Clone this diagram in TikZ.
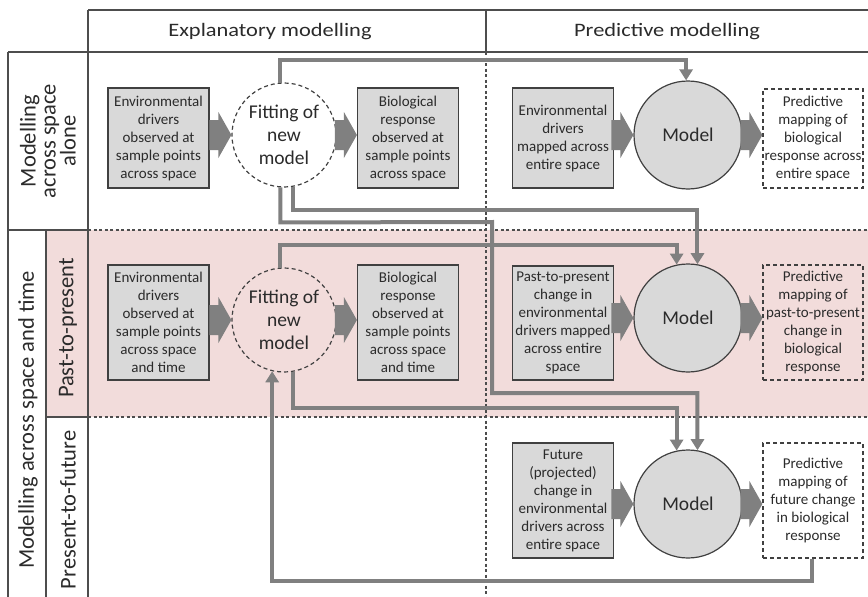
\documentclass[tikz,border=0pt]{standalone}
\usepackage{fontspec}
\setmainfont{Carlito}
\usetikzlibrary{arrows.meta}
\definecolor{gridc}{HTML}{4D4D4D}
\definecolor{boxc}{HTML}{404040}
\definecolor{boxfill}{HTML}{D9D9D9}
\definecolor{connc}{HTML}{808080}
\definecolor{pinkc}{HTML}{F2DCDB}
\definecolor{txt}{HTML}{2B2B2B}
\newcommand\bxfont{\fontsize{15}{18}\selectfont}
\newcommand\crfont{\fontsize{19.5}{23}\selectfont}
\newcommand\hdfont{\fontsize{19}{22}\selectfont}
\newcommand\lbfont{\fontsize{22.5}{20}\selectfont}
\begin{document}
\begin{tikzpicture}[x=1pt,y=-1pt,
  grid/.style={draw=gridc, line width=1.2pt},
  gdash/.style={grid, dash pattern=on 3pt off 2.5pt},
  box/.style={draw=boxc, fill=boxfill, line width=1.2pt, align=center, inner sep=0pt, text=txt, font=\bxfont, minimum width=101pt},
  outbox/.style={draw=boxc, line width=1.2pt, dash pattern=on 4pt off 3pt, align=center, inner sep=0pt, text=txt, font=\bxfont, minimum width=100pt},
  fitc/.style={circle, draw=boxc, line width=1.2pt, dash pattern=on 4pt off 3pt, minimum size=104pt, inner sep=0pt, align=center, font=\crfont, text=txt},
  modc/.style={circle, draw=boxc, fill=boxfill, line width=1.2pt, minimum size=108pt, inner sep=0pt, font=\crfont, text=txt},
  hdr/.style={font=\hdfont, text=txt, anchor=base, inner sep=0pt},
  lbl/.style={font=\lbfont, text=txt, align=center, rotate=90, inner sep=0pt},
  conn/.style={draw=connc, line width=4pt},
  connarr/.style={conn, -{Triangle[width=13pt,length=11pt]}},
  blkarrow/.pic={\fill[connc] (-22,-15) -- (-13,-15) -- (-13,-23) -- (0,0) -- (-13,23) -- (-13,15) -- (-22,15) -- cycle;}
]
\useasboundingbox (0,0) rectangle (868,597);
% pink band
\fill[pinkc] (46,230) rectangle (868,417);
% grid
\draw[grid] (88,10) -- (868,10);
\draw[grid] (8,52) -- (868,52);
\draw[grid] (88,10) -- (88,597);
\draw[grid] (8,52) -- (8,597);
\draw[grid] (46,230) -- (46,597);
\draw[grid] (8,230) -- (88,230);
\draw[gdash] (88,230) -- (868,230);
\draw[grid] (46,417) -- (88,417);
\draw[gdash] (88,417) -- (868,417);
\draw[grid] (486,10) -- (486,52);
\draw[gdash] (486,52) -- (486,597);
% headers
\node[hdr] (h1) at (270,36.5) {\scalebox{1.18}[1]{Explanatory modelling}};
\node[hdr] (h2) at (667,36.5) {\scalebox{1.18}[1]{Predictive modelling}};
% row labels
\node[lbl] (l1) at (48,141) {Modelling\\across space\\alone};
\node[lbl] (l2) at (28,420) {Modelling across space and time};
\node[lbl] (l3) at (68,328) {Past-to-present};
\node[lbl] (l4) at (68,510) {Present-to-future};
% row 1
\node[box, minimum height=100pt] (env1) at (158.5,138) {Environmental\\drivers\\observed at\\sample points\\across space};
\node[fitc] (fit1) at (284,135) {Fitting of\\new\\model};
\node[box, minimum height=100pt] (bio1) at (408,138) {Biological\\response\\observed at\\sample points\\across space};
\node[box, minimum height=100pt] (penv1) at (563,138) {Environmental\\drivers\\mapped across\\entire space};
\node[modc] (mod1) at (688,135) {Model};
\node[outbox, minimum height=99pt] (out1) at (813,138.5) {Predictive\\mapping of\\biological\\response across\\entire space};
% row 2
\node[box, minimum height=115pt] (env2) at (158.5,322.5) {Environmental\\drivers\\observed at\\sample points\\across space\\and time};
\node[fitc] (fit2) at (284,320) {Fitting of\\new\\model};
\node[box, minimum height=115pt] (bio2) at (408,322.5) {Biological\\response\\observed at\\sample points\\across space\\and time};
\node[box, minimum height=114pt] (penv2) at (563,323) {Past-to-present\\change in\\environmental\\drivers mapped\\across entire\\space};
\node[modc] (mod2) at (688,318) {Model};
\node[outbox, minimum height=115pt] (out2) at (813,322.5) {Predictive\\mapping of\\past-to-present\\change in\\biological\\response};
% row 3
\node[box, minimum height=115pt] (penv3) at (563,500.5) {Future\\(projected)\\change in\\environmental\\drivers across\\entire space};
\node[modc] (mod3) at (688,504) {Model};
\node[outbox, minimum height=115pt] (out3) at (813,500.5) {Predictive\\mapping of\\future change\\in biological\\response};
% block arrows
\pic at (fit1.west) {blkarrow};
\pic at (bio1.west |- fit1.center) {blkarrow};
\pic at (mod1.west) {blkarrow};
\pic at (out1.west |- mod1.center) {blkarrow};
\pic at (fit2.west) {blkarrow};
\pic at (bio2.west |- fit2.center) {blkarrow};
\pic at (mod2.west) {blkarrow};
\pic at (out2.west |- mod2.center) {blkarrow};
\pic at (mod3.west) {blkarrow};
\pic at (out3.west |- mod3.center) {blkarrow};
% connectors
\draw[connarr] (fit1.94) -- ++(0,-23) -| (mod1.92);
\draw[connarr] (fit1.-80) -- ++(0,23) -| (mod2.80);
\draw[connarr] (fit1.-94) -- ++(0,35) -- (492,222) -- (492,393) -| (mod3.80);
\draw[connarr] (fit2.94) -- ++(0,-23) -| (mod2.102);
\draw[connarr] (fit2.-80) -- ++(0,36) -| (mod3.102);
\draw[connarr] ([xshift=-1pt]out3.south) -- ++(0,22) -| (fit2.-103);
\end{tikzpicture}
\end{document}
